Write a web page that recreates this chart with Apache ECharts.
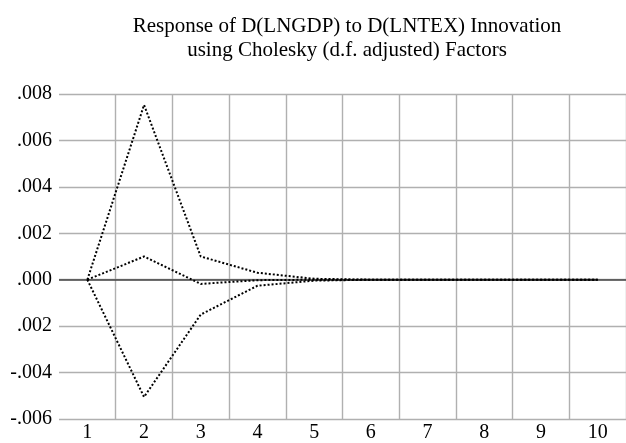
<!DOCTYPE html>
<html>
<head>
<meta charset="utf-8">
<script src="https://cdn.jsdelivr.net/npm/echarts@6/dist/echarts.min.js"></script>
<style>
  html, body { margin: 0; padding: 0; background: #fff; }
  #chart { width: 626px; height: 443px; }
</style>
</head>
<body>
<div id="chart"></div>
<script>
// periods after the shock
var periods = ['1', '2', '3', '4', '5', '6', '7', '8', '9', '10'];
// impulse response and +/- 2 s.e. bands
var response = [0, 0.00100, -0.00018, -0.00002, 0, 0, 0, 0, 0, 0];
var upperBand = [0, 0.00753, 0.00100, 0.00030, 0.00004, 0, 0, 0, 0, 0];
var lowerBand = [0, -0.00505, -0.00150, -0.00026, -0.00004, 0, 0, 0, 0, 0];
// y tick labels as printed on the reference
var yTickValues = [0.008, 0.006, 0.004, 0.002, 0, -0.002, -0.004, -0.006];
var yTickLabels = ['.008', '.006', '.004', '.002', '.000', '.002', '-.004', '-.006'];

var serif = '"Liberation Serif", "Times New Roman", serif';

function dottedSeries(name, data) {
  return {
    name: name,
    type: 'line',
    data: data,
    symbol: 'none',
    silent: true,
    animation: false,
    lineStyle: { color: '#000', width: 2, type: [2, 2] },
    z: 3
  };
}

var chart = echarts.init(document.getElementById('chart'));
var series = [
  dottedSeries('Upper', upperBand),
  dottedSeries('Lower', lowerBand),
  dottedSeries('Response', response)
];
// zero line
series[2].markLine = {
  silent: true,
  symbol: 'none',
  label: { show: false },
  lineStyle: { color: '#444', width: 1.5, type: 'solid' },
  data: [{ yAxis: 0 }],
  z: 2
};

chart.setOption({
  animation: false,
  title: {
    text: 'Response of D(LNGDP) to D(LNTEX) Innovation\nusing Cholesky (d.f. adjusted) Factors',
    left: 342,
    top: 9,
    textAlign: 'center',
    textStyle: {
      fontFamily: serif,
      fontWeight: 'normal',
      fontSize: 21,
      lineHeight: 24,
      color: '#000'
    }
  },
  grid: { left: 59, right: -3, top: 94, bottom: 24 },
  xAxis: {
    type: 'category',
    data: periods,
    boundaryGap: true,
    axisLine: { show: false },
    axisTick: { show: false },
    axisLabel: { fontFamily: serif, fontSize: 20, color: '#000', margin: 4 },
    splitLine: {
      show: true,
      interval: function (i) { return i > 0; },
      lineStyle: { color: '#b0b0b0', width: 1.4 }
    }
  },
  yAxis: {
    type: 'value',
    min: -0.006,
    max: 0.008,
    interval: 0.002,
    axisLine: { show: false },
    axisTick: { show: false },
    axisLabel: {
      fontFamily: serif,
      fontSize: 20,
      color: '#000',
      margin: 7,
      formatter: function (v) {
        for (var i = 0; i < yTickValues.length; i++) {
          if (Math.abs(yTickValues[i] - v) < 1e-9) return yTickLabels[i];
        }
        return '';
      }
    },
    splitLine: { show: true, lineStyle: { color: '#b0b0b0', width: 1.4 } }
  },
  series: series
});
</script>
</body>
</html>
